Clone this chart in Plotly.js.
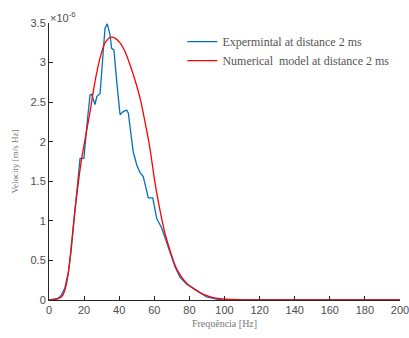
<!DOCTYPE html>
<html><head><meta charset="utf-8">
<script src="https://cdn.plot.ly/plotly-3.0.1.min.js"></script>
<style>html,body{margin:0;padding:0;background:#fff}#c{width:409px;height:338px}</style>
</head><body><div id="c"></div>
<script>
const expFreq = [0,3,5,7,9,11,12.5,14,15.5,16.7,17.7,19.9,20.5,22,23.4,24.3,26.2,27.2,29.1,30.9,31.9,33.2,34.8,35.7,37,38.6,40.5,42.3,44.3,45.2,47.1,48,50.1,51.9,53.7,55.7,56.6,59.1,61.4,64.2,66.1,68.9,71.8,74.6,78.5,82.2,86,89.8,95.5,99,120,150,200];
const expVel  = [0,0.01,0.02,0.06,0.15,0.35,0.6,0.95,1.3,1.5,1.79,1.79,1.95,2.3,2.59,2.6,2.47,2.57,2.61,3.18,3.43,3.49,3.35,3.18,3.16,2.76,2.34,2.38,2.40,2.36,2.0,1.87,1.70,1.61,1.56,1.35,1.29,1.29,1.03,0.91,0.78,0.59,0.42,0.29,0.20,0.15,0.09,0.04,0.01,0,0,0,0];
const numFreq = [0,3,5,7.2,9.1,11,12.9,14.8,16.7,18.2,19.5,23.4,26.2,29.1,31.9,34.8,37.6,40.5,43.3,46.2,49,51.9,54.7,57.5,60.4,63.2,66.1,68.9,71.8,74.6,78.5,83.2,88,93.6,101,110,150,200];
const numVel  = [0,0.005,0.015,0.04,0.13,0.34,0.72,1.14,1.48,1.73,1.90,2.38,2.76,3.06,3.25,3.32,3.31,3.25,3.14,2.97,2.78,2.55,2.25,1.92,1.48,1.14,0.84,0.63,0.44,0.32,0.21,0.13,0.07,0.03,0.01,0.002,0,0];
const names = ['Expermintal at distance 2 ms','Numerical  model at distance 2 ms'];
const xTicks = [0,20,40,60,80,100,120,140,160,180,200];
const yTicks = [0,0.5,1,1.5,2,2.5,3,3.5];
const yTickText = ['0','0.5','1','1.5','2','2.5','3','3.5'];

const traces = [
  {x: expFreq, y: expVel, name: names[0], type:'scatter', mode:'lines', line:{color:'#0072BD', width:1.3}},
  {x: numFreq, y: numVel, name: names[1], type:'scatter', mode:'lines', line:{color:'#FF0000', width:1.3, shape:'spline', smoothing:0.6}}
];
const axFont = {family:'Liberation Sans, Arial, sans-serif', size:11, color:'#4d4d4d'};
const layout = {
  width:409, height:338,
  margin:{l:49, r:9, t:23, b:38},
  paper_bgcolor:'#fff', plot_bgcolor:'#fff',
  showlegend:true,
  legend:{x:0.38, y:0.985, xanchor:'left', yanchor:'top', bgcolor:'rgba(0,0,0,0)', borderwidth:0,
          font:{family:'Liberation Serif, Times New Roman, serif', size:12, color:'#555'}, tracegroupgap:0},
  xaxis:{range:[0,200], tickvals:xTicks, ticktext:xTicks.map(String), ticks:'inside', ticklen:4, tickcolor:'#262626',
         ticklabeloverflow:'allow',
         showline:true, linecolor:'#262626', linewidth:1, showgrid:false, zeroline:false, tickfont:axFont,
         title:{text:'Frequência [Hz]', standoff:4, font:{family:'Liberation Serif, Times New Roman, serif', size:10, color:'#777'}}},
  yaxis:{range:[0,3.5], tickvals:yTicks, ticktext:yTickText, ticks:'inside', ticklen:4, tickcolor:'#262626',
         showline:true, linecolor:'#262626', linewidth:1, showgrid:false, zeroline:false, tickfont:axFont,
         title:{text:'Velocity [m/s Hz]', standoff:10, font:{family:'Liberation Serif, Times New Roman, serif', size:9, color:'#777'}}},
  annotations:[{xref:'paper', yref:'paper', x:0, y:1, xanchor:'left', yanchor:'bottom', showarrow:false,
                text:'×10<sup>-6</sup>', font:axFont, xshift:-1, yshift:-3}]
};
Plotly.newPlot('c', traces, layout, {displayModeBar:false, staticPlot:true});
</script></body></html>
